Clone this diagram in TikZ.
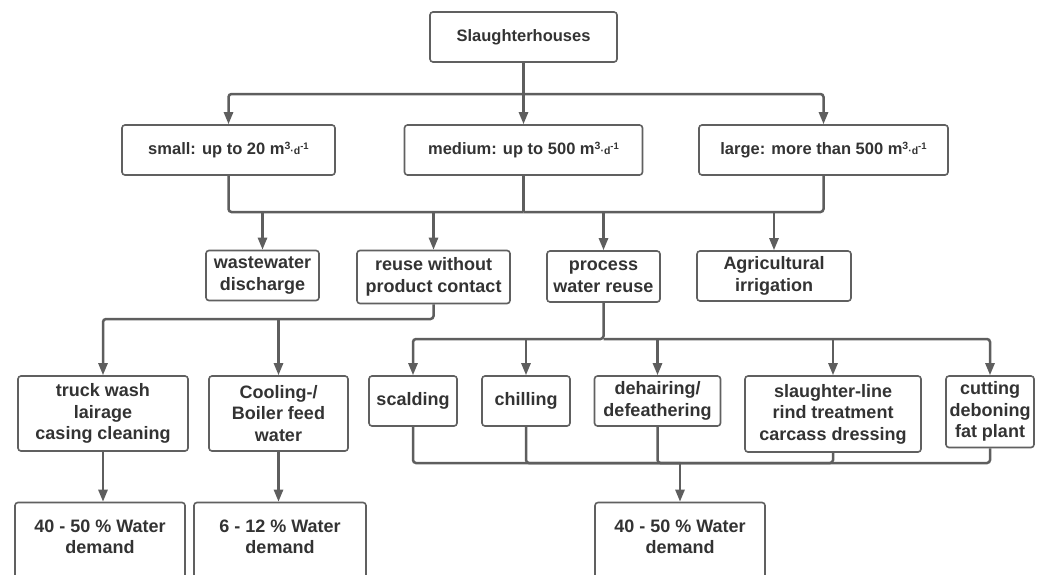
\documentclass[tikz,border=0pt]{standalone}
\usepackage{fontspec}
\setmainfont{Liberation Sans}
\usetikzlibrary{arrows.meta,calc}
\definecolor{boxgray}{HTML}{606060}
\definecolor{linegray}{HTML}{5E5E5E}
\definecolor{textgray}{HTML}{333333}
\newcommand{\mdunit}{m\raisebox{5.5pt}{\fontsize{10.5}{10.5}\selectfont 3}{\fontsize{10.5}{10.5}\selectfont\raisebox{0.5pt}{·d}}\raisebox{5.5pt}{\fontsize{9.5}{9.5}\selectfont -1}}
\begin{document}
\begin{tikzpicture}[x=1pt,y=-1pt,
  box/.style={draw=boxgray, line width=1.6pt, rounded corners=3pt, fill=white, text=textgray,
    font=\bfseries\fontsize{18}{21.5}\selectfont, align=center, inner sep=0pt},
  topbox/.style={box, font=\bfseries\fontsize{16.5}{20}\selectfont},
  lbl/.style={text=textgray, font=\bfseries\fontsize{18}{21.5}\selectfont, align=center, inner sep=0pt},
  conn/.style={draw=linegray, line width=2.5pt, rounded corners=3pt},
  arr/.style={conn, -{Triangle[length=12pt,width=9pt]}}]
\useasboundingbox (0,0) rectangle (1041,574);
\fill[white] (0,0) rectangle (1041,574);
\begin{scope}
\clip (0,0) rectangle (1041,574);
% level 0/1
\node[topbox, minimum width=187pt, minimum height=50pt] (top) at (523.5,37) {Slaughterhouses};
\node[topbox, minimum width=213pt, minimum height=50pt] (small) at (228.5,150) {small: up to 20 \mdunit};
\node[topbox, minimum width=238pt, minimum height=50pt] (medium) at (523.5,150) {medium: up to 500 \mdunit};
\node[topbox, minimum width=249pt, minimum height=50pt] (large) at (823.5,150) {large: more than 500 \mdunit};
% level 2
\node[box, minimum width=113pt, minimum height=50pt] (waste) at (262.5,275.5) {wastewater\\discharge};
\node[box, minimum width=153pt, minimum height=53pt] (reuse) at (433.5,277) {reuse without\\product contact};
\node[box, minimum width=113pt, minimum height=51pt] (process) at (603.5,276.5) {process\\water reuse};
\node[box, minimum width=154pt, minimum height=50pt] (agri) at (774,276) {Agricultural\\irrigation};
% level 3
\node[box, minimum width=170pt, minimum height=75pt] (truck) at (103,413.5) {truck wash\\lairage\\casing cleaning};
\node[box, minimum width=139pt, minimum height=75pt] (cooling) at (278.5,413.5) {Cooling-/\\Boiler feed\\water};
\node[box, minimum width=88pt, minimum height=50pt] (scald) at (413,401) {scalding};
\node[box, minimum width=88pt, minimum height=50pt] (chill) at (526,401) {chilling};
\node[box, minimum width=126pt, minimum height=50pt] (dehair) at (657.5,401) {dehairing/\\defeathering};
\node[box, minimum width=176pt, minimum height=76pt] (sline) at (833,414) {slaughter-line\\rind treatment\\carcass dressing};
\node[box, minimum width=88pt, minimum height=71.5pt] (cut) at (990,411.75) {cutting\\deboning\\fat plant};
% bottom boxes (run off the page)
\node[box, minimum width=170pt, minimum height=120pt, anchor=north] (bot1) at (100,501.7) {};
\node[box, minimum width=172pt, minimum height=120pt, anchor=north] (bot2) at (280,501.7) {};
\node[box, minimum width=170pt, minimum height=120pt, anchor=north] (bot3) at (680,501.7) {};
\node[lbl] (bot1t) at ($(bot1.north)+(0,35)$) {40 - 50 \% Water\\demand};
\node[lbl] (bot2t) at ($(bot2.north)+(0,35)$) {6 - 12 \% Water\\demand};
\node[lbl] (bot3t) at ($(bot3.north)+(0,35)$) {40 - 50 \% Water\\demand};
% junctions
\coordinate (j1) at (523.5,94);
\coordinate (j2) at (523.5,212);
\coordinate (j3) at (433.5,319);
\coordinate (j4) at (603.5,339);
\coordinate (j5) at (680,463);
% connectors
\draw[conn] (top.south) -- (j1);
\draw[arr] (j1) -| (small.north);
\draw[arr] (j1) -- (medium.north);
\draw[arr] (j1) -| (large.north);
\draw[conn] (small.south) |- (j2);
\draw[conn] (medium.south) -- (j2);
\draw[conn] (large.south) |- (j2);
\draw[arr] (waste.north |- j2) -- (waste.north);
\draw[arr] (reuse.north |- j2) -- (reuse.north);
\draw[arr] (process.north |- j2) -- (process.north);
\draw[arr] (agri.north |- j2) -- (agri.north);
\draw[arr] (reuse.south) -- (j3) -| (truck.north);
\draw[arr] (cooling.north |- j3) -- (cooling.north);
\draw[arr] (process.south) -- (j4) -| (scald.north);
\draw[arr] (j4) -| (cut.north);
\draw[arr] (chill.north |- j4) -- (chill.north);
\draw[arr] (dehair.north |- j4) -- (dehair.north);
\draw[arr] (sline.north |- j4) -- (sline.north);
\draw[conn] (scald.south) |- (j5);
\draw[conn] (chill.south) |- (j5);
\draw[conn] (dehair.south) |- (j5);
\draw[conn] (sline.south) |- (j5);
\draw[conn] (cut.south) |- (j5);
\draw[arr] (j5) -- (bot3.north);
\draw[arr] (truck.south) -- (truck.south |- bot1.north);
\draw[arr] (cooling.south) -- (cooling.south |- bot2.north);
\end{scope}
\end{tikzpicture}
\end{document}
